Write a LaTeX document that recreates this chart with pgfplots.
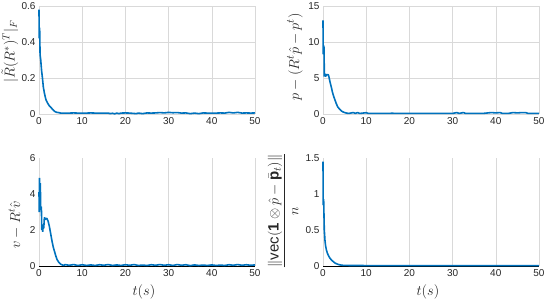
\documentclass[border=0pt]{standalone}
\usepackage{fontspec}
\setmainfont{Liberation Sans}
\usepackage{amsmath}
\usepackage{pgfplots}
\pgfplotsset{compat=1.18}
\definecolor{mblue}{RGB}{0,114,189}
\definecolor{tgray}{RGB}{38,38,38}
\pgfplotsset{
  panel/.style={
    scale only axis, width=216pt, height=108pt,
    xmin=0, xmax=50, xtick={0,10,20,30,40,50},
    axis line style={draw=none}, major tick length=0pt,
    tick label style={font=\fontsize{10}{12}\selectfont, text=tgray},
    /pgf/number format/assume math mode=true,
    grid style={gray!30, line width=0.5pt},
    xmajorgrids,
    label style={text=tgray},
    xlabel style={font=\fontsize{14}{16}\selectfont, at={(axis description cs:0.486,-0.24)}, anchor=center},
    clip=false,
  },
  dl/.style={mblue, line width=1.6pt, no marks, line join=bevel},
}
\begin{document}
\begin{tikzpicture}[x=1pt,y=1pt]
\useasboundingbox (0,0) rectangle (544,300);
% top-left
\begin{axis}[panel, at={(39pt,186pt)}, anchor=south west,
  ymin=0, ymax=0.6, ytick={0,0.2,0.4,0.6}, ymajorgrids,
  ylabel style={font=\fontsize{14}{16}\selectfont, inner sep=0pt, at={(axis description cs:-0.135,0.58)}, anchor=center},
  ylabel={$|\tilde{R}(R^{*})^{T}|_{F}$}]
\addplot[dl] coordinates {(0,0.58)(0.05,0.42)(0.15,0.48)(0.25,0.33)(0.4,0.30)(0.6,0.24)(0.8,0.20)(1.0,0.15)(1.3,0.11)(1.6,0.08)(2.0,0.06)(2.4,0.045)(2.8,0.035)(3.2,0.025)(3.6,0.015)(4.0,0.01)(4.5,0.008)(5,0.005)
(6,0.005)(7,0.005)(8,0.006)(9,0.005)(10,0.005)(11,0.005)(12,0.006)(13,0.005)(14,0.005)(15,0.005)(16,0.005)(16.5,0.002)(17,0.004)(17.5,0.001)(18,0.005)(18.5,0.002)(19,0.005)(20,0.006)(21,0.005)(22,0.003)(22.5,0.002)(23,0.005)(24,0.002)(25,0.006)(26,0.005)(27,0.006)(28,0.008)(29,0.006)(30,0.009)(31,0.007)(32,0.008)(33,0.005)(34,0.006)(35,0.002)(36,0.005)(37,0.002)(38,0.006)(39,0.005)(40,0.005)(41,0.005)(42,0.006)(43,0.005)(44,0.009)(45,0.006)(46,0.009)(47,0.005)(48,0.006)(49,0.005)(50,0.006)};
\end{axis}
% top-right
\begin{axis}[panel, at={(323pt,186pt)}, anchor=south west,
  ymin=0, ymax=15, ytick={0,5,10,15}, ymajorgrids,
  ylabel style={font=\fontsize{15}{17}\selectfont, at={(axis description cs:-0.13,0.53)}, anchor=center},
  ylabel={$p-(R^{t}\hat{p}-p^{t})$}]
\addplot[dl] coordinates {(0,13)(0.05,8.3)(0.15,9.5)(0.25,9.2)(0.3,5.2)(0.45,5.6)(0.6,5.2)(0.8,5.5)(1.0,5.4)(1.2,5.5)(1.4,5.1)(1.6,4.5)(1.9,3.8)(2.2,3.0)(2.5,2.4)(2.8,1.9)(3.1,1.4)(3.4,1.0)(3.8,0.7)(4.2,0.45)(4.6,0.3)(5.0,0.2)(5.5,0.12)(6,0.08)
(7,0.2)(7.5,0.08)(8,0.2)(8.5,0.08)(10,0.18)(10.5,0.08)(12,0.09)(14,0.08)(16,0.1)(18,0.08)(20,0.09)(22,0.08)(24,0.09)(26,0.08)(28,0.09)(30,0.08)(31,0.2)(31.5,0.08)(32.5,0.2)(33,0.08)(35,0.09)(37,0.08)(39,0.2)(40,0.15)(41,0.2)(41.5,0.08)(43,0.09)(44,0.2)(45,0.15)(46,0.2)(47,0.18)(47.5,0.08)(49,0.09)(50,0.08)};
\end{axis}
% bottom-left
\begin{axis}[panel, at={(39pt,34pt)}, anchor=south west,
  ymin=0, ymax=6, ytick={0,2,4,6},
  xlabel={$t(s)$},
  ylabel style={font=\fontsize{14}{16}\selectfont, at={(axis description cs:-0.111,0.38)}, anchor=center},
  ylabel={$v-R^{t}\hat{v}$}]
\addplot[black, line width=0.6pt] coordinates {(0,0)(50,0)};
\addplot[dl] coordinates {(0,4.1)(0.05,3.0)(0.12,4.9)(0.2,3.1)(0.3,4.6)(0.4,3.2)(0.55,3.3)(0.65,2.0)(0.75,2.3)(0.85,1.9)(1.0,2.3)(1.1,2.1)(1.25,2.7)(1.5,2.6)(1.8,2.65)(2.1,2.5)(2.4,2.2)(2.7,1.8)(3.0,1.4)(3.3,1.05)(3.6,0.8)(3.9,0.55)(4.2,0.35)(4.6,0.2)(5.0,0.1)(5.5,0.05)(5.8,0.03)(6,0.08)
(7,0.04)(8,0.08)(9,0.03)(10,0.07)(11,0.03)(12,0.06)(13,0.03)(14,0.07)(15,0.04)(16,0.08)(17,0.03)(18,0.06)(19,0.03)(20,0.07)(21,0.04)(22,0.08)(23,0.03)(24,0.05)(25,0.03)(26,0.07)(27,0.04)(28,0.08)(29,0.04)(30,0.07)(31,0.03)(32,0.08)(33,0.04)(34,0.07)(35,0.02)(36,0.06)(37,0.03)(38,0.05)(39,0.03)(40,0.06)(41,0.03)(42,0.05)(43,0.03)(44,0.07)(45,0.04)(46,0.08)(47,0.04)(48,0.07)(49,0.04)(50,0.06)};
\end{axis}
% bottom-right
\begin{axis}[panel, at={(323pt,34pt)}, anchor=south west,
  ymin=0, ymax=1.5, ytick={0,0.5,1,1.5},
  xlabel={$t(s)$},
  ylabel style={font=\fontsize{15}{17}\selectfont, at={(axis description cs:-0.185,0.51)}, anchor=center},
  ylabel={$\dfrac{\|\mathrm{vec}(\mathbf{1}\otimes\hat{p}-\bar{\mathbf{p}}_{t})\|}{n}$}]
\addplot[black, line width=0.6pt] coordinates {(0,0)(50,0)};
\addplot[dl] coordinates {(0,1.45)(0.05,0.85)(0.15,0.93)(0.3,0.5)(0.45,0.36)(0.6,0.28)(0.8,0.22)(1.0,0.18)(1.3,0.14)(1.6,0.11)(2.0,0.08)(2.4,0.06)(2.8,0.04)(3.2,0.03)(3.6,0.02)(4.0,0.015)(4.5,0.01)(5,0.008)(10,0.006)(20,0.006)(30,0.006)(40,0.006)(50,0.006)};
\end{axis}
\end{tikzpicture}
\end{document}
